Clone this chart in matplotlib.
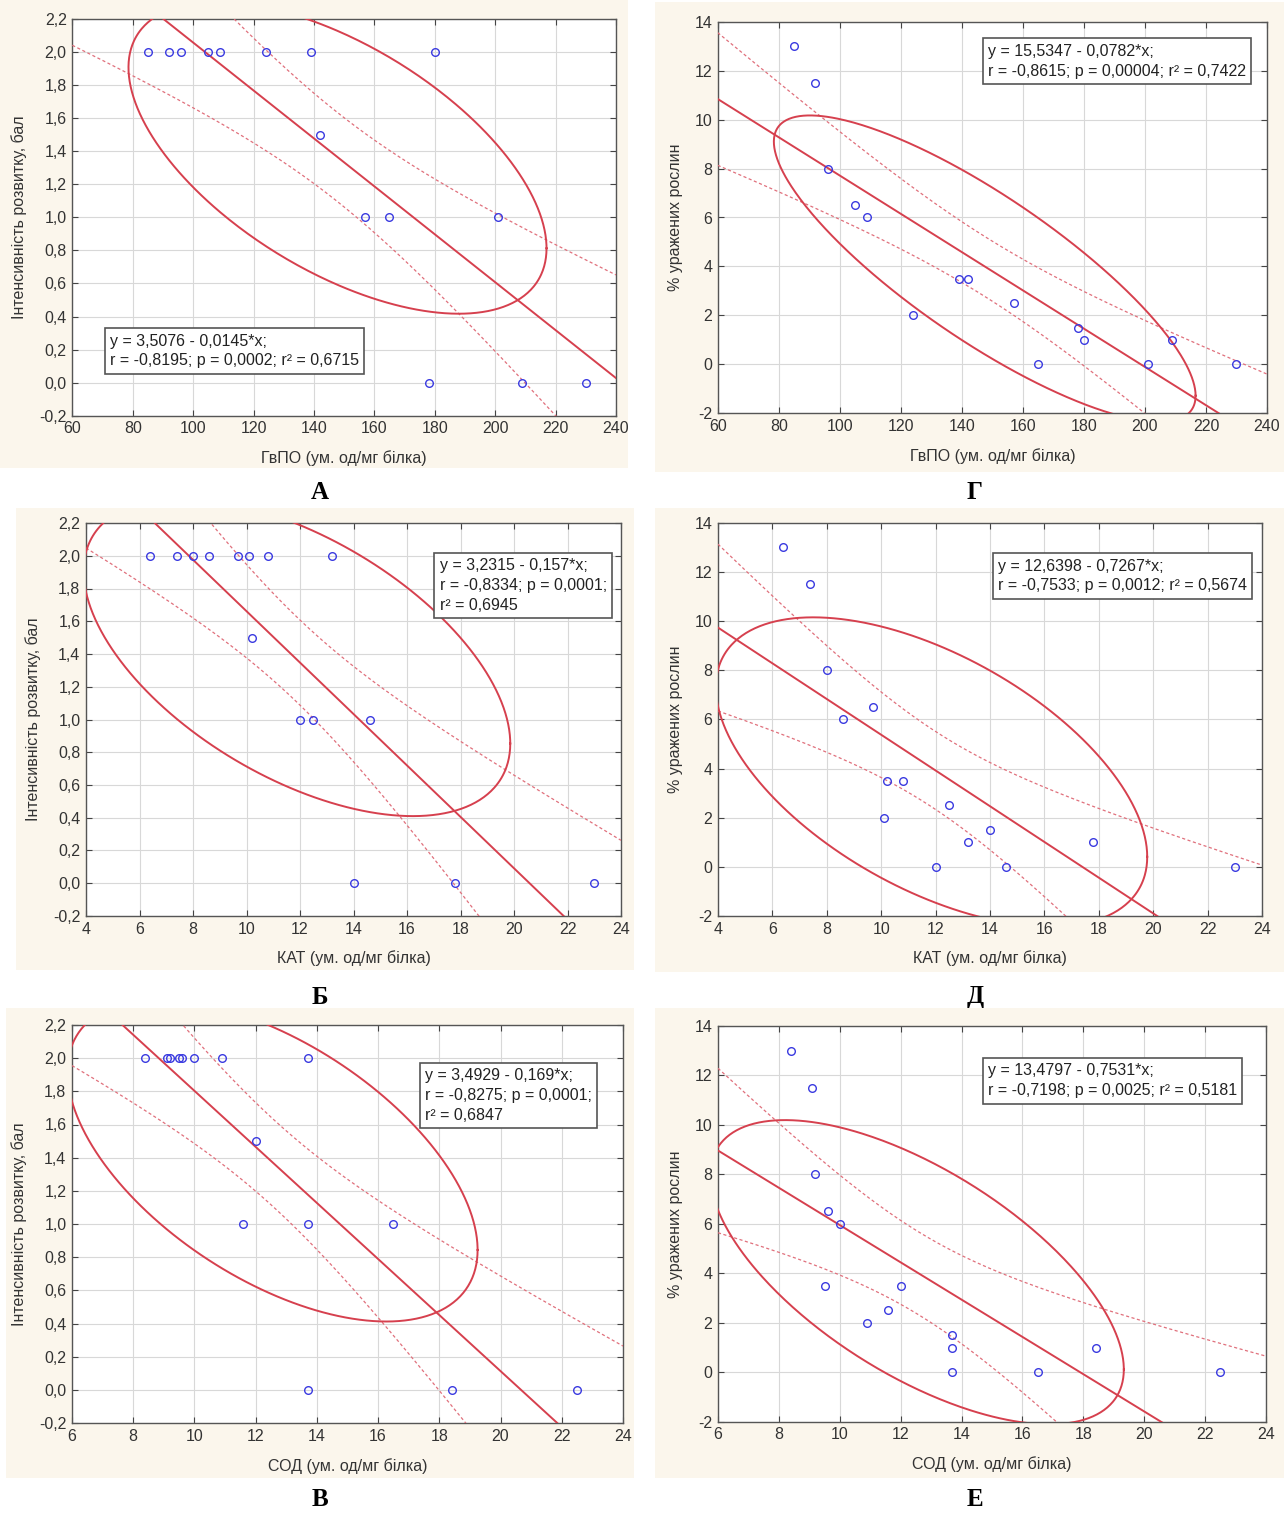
import numpy as np
import matplotlib
matplotlib.use("Agg")
import matplotlib.pyplot as plt
from matplotlib.patches import Rectangle
from matplotlib.ticker import FuncFormatter, MultipleLocator
import matplotlib.transforms as mtransforms

plt.rcParams['font.family'] = ['Liberation Sans', 'DejaVu Sans']

# ---------------- data ----------------
gvpo_x = [85, 92, 96, 105, 109, 124, 139, 142, 157, 165, 178, 180, 201, 209, 230]
gvpo_intensity = [2, 2, 2, 2, 2, 2, 2, 1.5, 1, 1, 0, 2, 1, 0, 0]
gvpo_damage = [13, 11.5, 8, 6.5, 6, 2, 3.5, 3.5, 2.5, 0, 1.5, 1, 0, 1, 0]

kat_x = [6.4, 7.4, 8.0, 8.6, 9.7, 10.1, 10.8, 13.2, 10.2, 12.0, 12.5, 14.6, 14.0, 17.8, 23.0]
kat_intensity = [2, 2, 2, 2, 2, 2, 2, 2, 1.5, 1, 1, 1, 0, 0, 0]
kat_damage = [13, 11.5, 8, 6, 6.5, 2, 3.5, 1, 3.5, 0, 2.5, 0, 1.5, 1, 0]

sod_x = [8.4, 9.1, 9.2, 9.5, 9.6, 10.0, 10.9, 13.7, 12.0, 11.6, 13.7, 16.5, 13.7, 18.4, 22.5]
sod_intensity = [2, 2, 2, 2, 2, 2, 2, 2, 1.5, 1, 1, 1, 0, 0, 0]
sod_damage = [13, 11.5, 8, 3.5, 6.5, 6, 2, 1.5, 3.5, 2.5, 1, 0, 0, 1, 0]

# panel order: А, Г, Б, Д, В, Е
panel_letters = ['А', 'Г', 'Б', 'Д', 'В', 'Е']
x_labels = ['ГвПО (ум. од/мг білка)', 'ГвПО (ум. од/мг білка)',
            'КАТ (ум. од/мг білка)', 'КАТ (ум. од/мг білка)',
            'СОД (ум. од/мг білка)', 'СОД (ум. од/мг білка)']
y_label_intensity = 'Інтенсивність розвитку, бал'
y_label_damage = '% уражених рослин'

eq_intercept = ['3,5076', '15,5347', '3,2315', '12,6398', '3,4929', '13,4797']
eq_slope = ['0,0145', '0,0782', '0,157', '0,7267', '0,169', '0,7531']
eq_r = ['-0,8195', '-0,8615', '-0,8334', '-0,7533', '-0,8275', '-0,7198']
eq_p = ['0,0002', '0,00004', '0,0001', '0,0012', '0,0001', '0,0025']
eq_r2 = ['0,6715', '0,7422', '0,6945', '0,5674', '0,6847', '0,5181']

# ellipse summaries (centre, half extents, cos of phase)
ell_cx = [147.8, 147.5, 11.885, 11.85, 12.55, 12.54]
ell_cy = [1.36, 3.91, 1.38, 3.86, 1.382, 4.045]
ell_hx = [69.2, 69.1, 7.975, 7.93, 6.7, 6.79]
ell_hy = [0.943, 6.26, 0.97, 6.29, 0.97, 6.145]
ell_cos = [-0.58, -0.829, -0.543, -0.549, -0.555, -0.639]

T95 = 2.1604  # Student t, 0.975, df = 13

xs_data = [gvpo_x, gvpo_x, kat_x, kat_x, sod_x, sod_x]
ys_data = [gvpo_intensity, gvpo_damage, kat_intensity, kat_damage, sod_intensity, sod_damage]

# ---------------- layout ----------------
W, H = 1288, 1514
fig = plt.figure(figsize=(W / 100, H / 100), dpi=100)
fig.patch.set_facecolor('white')

CREAM = '#fbf6ec'
cream_px = [(0, 0, 628, 468), (655, 2, 1284, 472),
            (16, 508, 634, 970), (655, 508, 1284, 972),
            (6, 1008, 634, 1478), (655, 1008, 1284, 1478)]
axes_px = [(72.3, 19, 616, 415.7), (717.7, 21.7, 1267, 413.3),
           (86, 523, 621, 916), (718, 522.7, 1262, 916),
           (72, 1025, 623, 1423), (718, 1025.8, 1266, 1421.8)]
letter_px = [(320, 492), (975, 492), (320, 997), (975, 997), (320, 1500), (975, 1500)]
box_anchor = [(0.06, 0.221), (0.483, 0.958), (0.652, 0.924),
              (0.5055, 0.923), (0.632, 0.905), (0.4836, 0.919)]
three_line = [False, False, True, False, True, False]
ylab_off = [-0.083, -0.063, -0.084, -0.064, -0.082, -0.064]

RED = '#d6404e'
BAND = '#e0707c'
BLUE = '#3a3ae0'
FS = 11.5


def fbox(l, t, r, b):
    return [l / W, 1 - b / H, (r - l) / W, (b - t) / H]


for (l, t, r, b) in cream_px:
    fig.add_artist(Rectangle((l / W, 1 - b / H), (r - l) / W, (b - t) / H,
                             transform=fig.transFigure, fc=CREAM, ec='none', zorder=-5))


def fmt1(v, p):
    if abs(v) < 1e-9:
        v = 0.0
    return f"{v:.1f}".replace('.', ',')


def fmt0(v, p):
    if abs(v) < 1e-9:
        v = 0.0
    return f"{v:.0f}"


for i in range(6):
    ax = fig.add_axes(fbox(*axes_px[i]))
    intensity = (i % 2 == 0)
    if i < 2:
        xlim, xstep = (60, 240), 20
    elif i < 4:
        xlim, xstep = (4, 24), 2
    else:
        xlim, xstep = (6, 24), 2
    ylim, ystep = ((-0.2, 2.2), 0.2) if intensity else ((-2, 14), 2)
    ax.set_xlim(*xlim)
    ax.set_ylim(*ylim)
    ax.xaxis.set_major_locator(MultipleLocator(xstep))
    ax.yaxis.set_major_locator(MultipleLocator(ystep))
    ax.xaxis.set_major_formatter(FuncFormatter(fmt0))
    ax.yaxis.set_major_formatter(FuncFormatter(fmt1 if intensity else fmt0))
    ax.grid(True, color='#d8d8d8', lw=0.8)
    ax.set_axisbelow(True)
    ax.tick_params(direction='in', length=4, width=0.8, top=True, right=True,
                   color='#444444', labelsize=FS, labelcolor='#333333', pad=4)
    for sp in ax.spines.values():
        sp.set_color('#555555')
        sp.set_linewidth(1.0)

    x = np.array(xs_data[i], dtype=float)
    y = np.array(ys_data[i], dtype=float)
    a = float(eq_intercept[i].replace(',', '.'))
    b = -float(eq_slope[i].replace(',', '.'))
    n = len(x)
    xm = x.mean()
    sxx = ((x - xm) ** 2).sum()
    res = y - (a + b * x)
    s = np.sqrt((res ** 2).sum() / (n - 2))
    xs = np.linspace(xlim[0], xlim[1], 400)
    yhat = a + b * xs
    w = T95 * s * np.sqrt(1.0 / n + (xs - xm) ** 2 / sxx)
    ax.plot(xs, yhat, color=RED, lw=1.4, zorder=3)
    ax.plot(xs, yhat + w, color=BAND, lw=0.9, ls=(0, (2.5, 2)), zorder=3)
    ax.plot(xs, yhat - w, color=BAND, lw=0.9, ls=(0, (2.5, 2)), zorder=3)

    tt = np.linspace(0, 2 * np.pi, 500)
    phi = np.arccos(ell_cos[i])
    ex = ell_cx[i] + ell_hx[i] * np.cos(tt)
    ey = ell_cy[i] + ell_hy[i] * np.cos(tt + phi)
    ax.plot(ex, ey, color=RED, lw=1.4, zorder=3)

    ax.plot(x, y, 'o', mfc='none', mec=BLUE, ms=5.5, mew=1.0, zorder=4, clip_on=False)

    ax.set_xlabel(x_labels[i], fontsize=FS, color='#333333')
    ax.xaxis.set_label_coords(0.5, -0.088)
    ax.set_ylabel(y_label_intensity if intensity else y_label_damage, fontsize=FS, color='#333333')
    ax.yaxis.set_label_coords(ylab_off[i], 0.5)

    line1 = f"y = {eq_intercept[i]} - {eq_slope[i]}*x;"
    if three_line[i]:
        txt = f"{line1}\nr = {eq_r[i]}; p = {eq_p[i]};\nr² = {eq_r2[i]}"
    else:
        txt = f"{line1}\nr = {eq_r[i]}; p = {eq_p[i]}; r² = {eq_r2[i]}"
    bx, by_ = box_anchor[i]
    tr = mtransforms.offset_copy(ax.transAxes, fig=fig, x=3.5, y=-4.0, units='points')
    ax.text(bx, by_, txt, transform=tr, ha='left', va='top', fontsize=FS,
            color='#222222', linespacing=1.4, zorder=6,
            bbox=dict(boxstyle='square,pad=0.33', fc='white', ec='#555555', lw=1.2))

    lx, ly = letter_px[i]
    fig.text(lx / W, 1 - ly / H, panel_letters[i], ha='center', va='center',
             fontsize=18, fontweight='bold', family='Liberation Serif', color='black')

fig.savefig('out.png', dpi=100, facecolor=fig.get_facecolor())
